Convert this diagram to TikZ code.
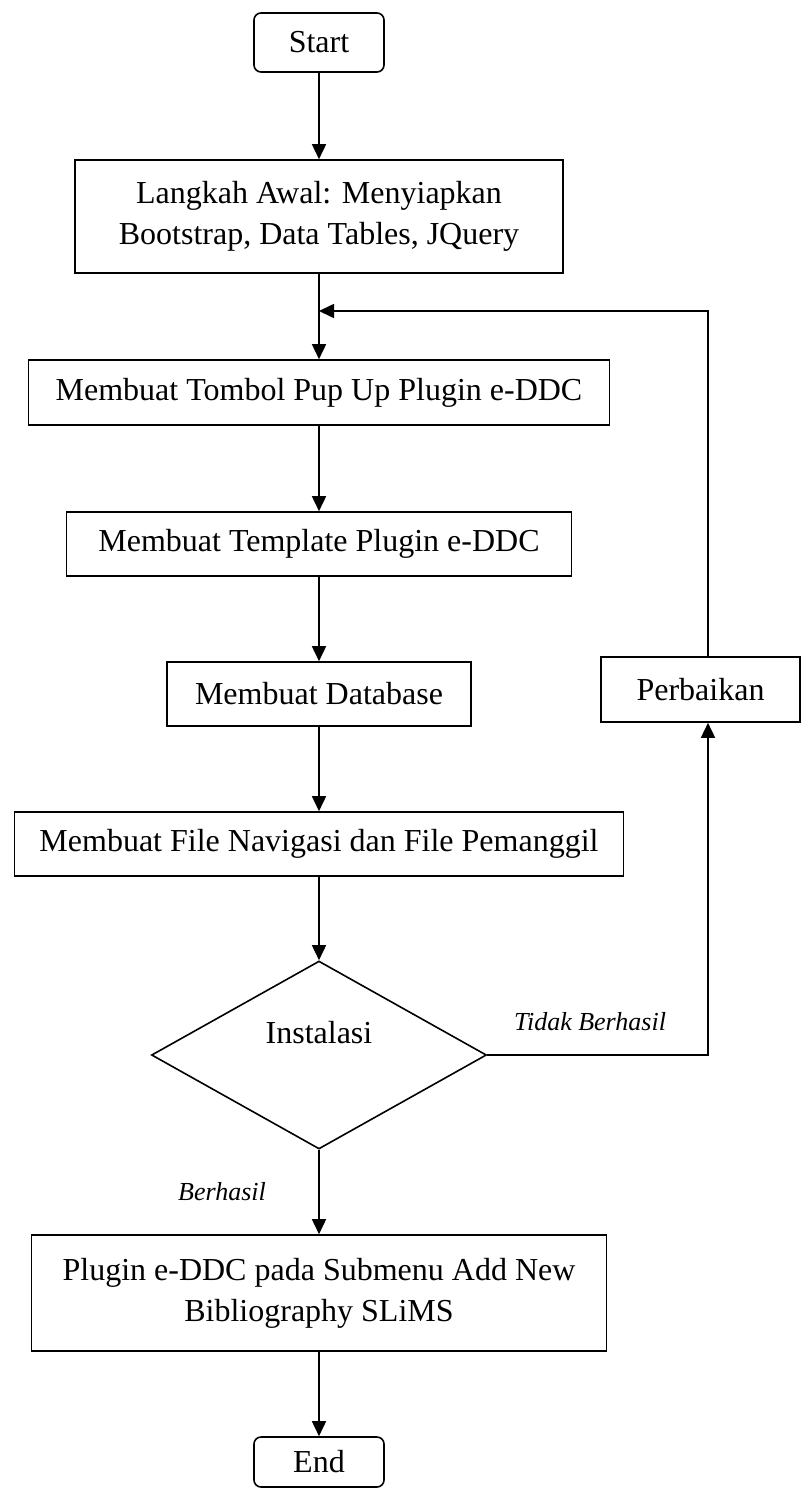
\documentclass[tikz,border=0pt]{standalone}
\usepackage{fontspec}
\setmainfont{Liberation Serif}
\usetikzlibrary{shapes.geometric,arrows.meta}

\begin{document}
\begin{tikzpicture}[x=0.5pt,y=-0.5pt,
    font=\fontsize{16}{20.5}\selectfont,
    line width=0.8pt,
    process/.style={draw,rectangle,inner sep=0pt,align=center},
    terminal/.style={draw,rectangle,rounded corners=3.5pt,inner sep=0pt,minimum width=65pt},
    decision/.style={draw,diamond,inner sep=0pt,minimum width=167.5pt,minimum height=94pt},
    note/.style={font=\fontsize{13}{15}\selectfont\itshape},
    flow/.style={-{Triangle[length=7.5pt,width=7pt]}}]
      \useasboundingbox (0,0) rectangle (801,1488);

      % Draw start and end
      \node[terminal,minimum height=29.5pt] (start) at (319,42.5) {Start};
      \node[terminal,minimum height=25pt] (end) at (319,1462) {End};

      % Draw steps
      \node[process,minimum width=244pt,minimum height=56.5pt] (prep) at (319,216.5) {Langkah Awal: Menyiapkan\\Bootstrap, Data Tables, JQuery};
      \node[process,minimum width=290.5pt,minimum height=32.5pt] (tombol) at (319,392.5) {Membuat Tombol Pup Up Plugin e-DDC};
      \node[process,minimum width=252.5pt,minimum height=32pt] (tmpl) at (319,544) {Membuat Template Plugin e-DDC};
      \node[process,minimum width=152pt,minimum height=32pt] (db) at (319,694) {Membuat Database};
      \node[process,minimum width=304.5pt,minimum height=32pt] (nav) at (319,844) {Membuat File Navigasi dan File Pemanggil};
      \node[process,minimum width=287.5pt,minimum height=58pt] (plugin) at (319,1293) {Plugin e-DDC pada Submenu Add New\\Bibliography SLiMS};
      \node[process,minimum width=99.5pt,minimum height=32.5pt] (fix) at (700.5,689.5) {Perbaikan};

      % Draw decision
      \node[decision,label={[name=declbl,yshift=11pt]center:Instalasi}] (dec) at (319,1055) {};

      % Add labels
      \node[note] (gagal) at (590,1022) {Tidak Berhasil};
      \node[note] (ok) at (222,1192) {Berhasil};

      % Draw main flow
      \foreach \a/\b in {start/prep, prep/tombol, tombol/tmpl, tmpl/db, db/nav, nav/dec, dec/plugin, plugin/end}
        \draw[flow] (\a) -- (\b);

      % Draw loop back
      \coordinate (join) at (319,311);
      \coordinate (back) at (708,1055);
      \draw[flow] (dec.east) -- (back) -- (back |- fix.south);
      \draw[flow] (back |- fix.north) |- (join);
  \end{tikzpicture}
\end{document}
